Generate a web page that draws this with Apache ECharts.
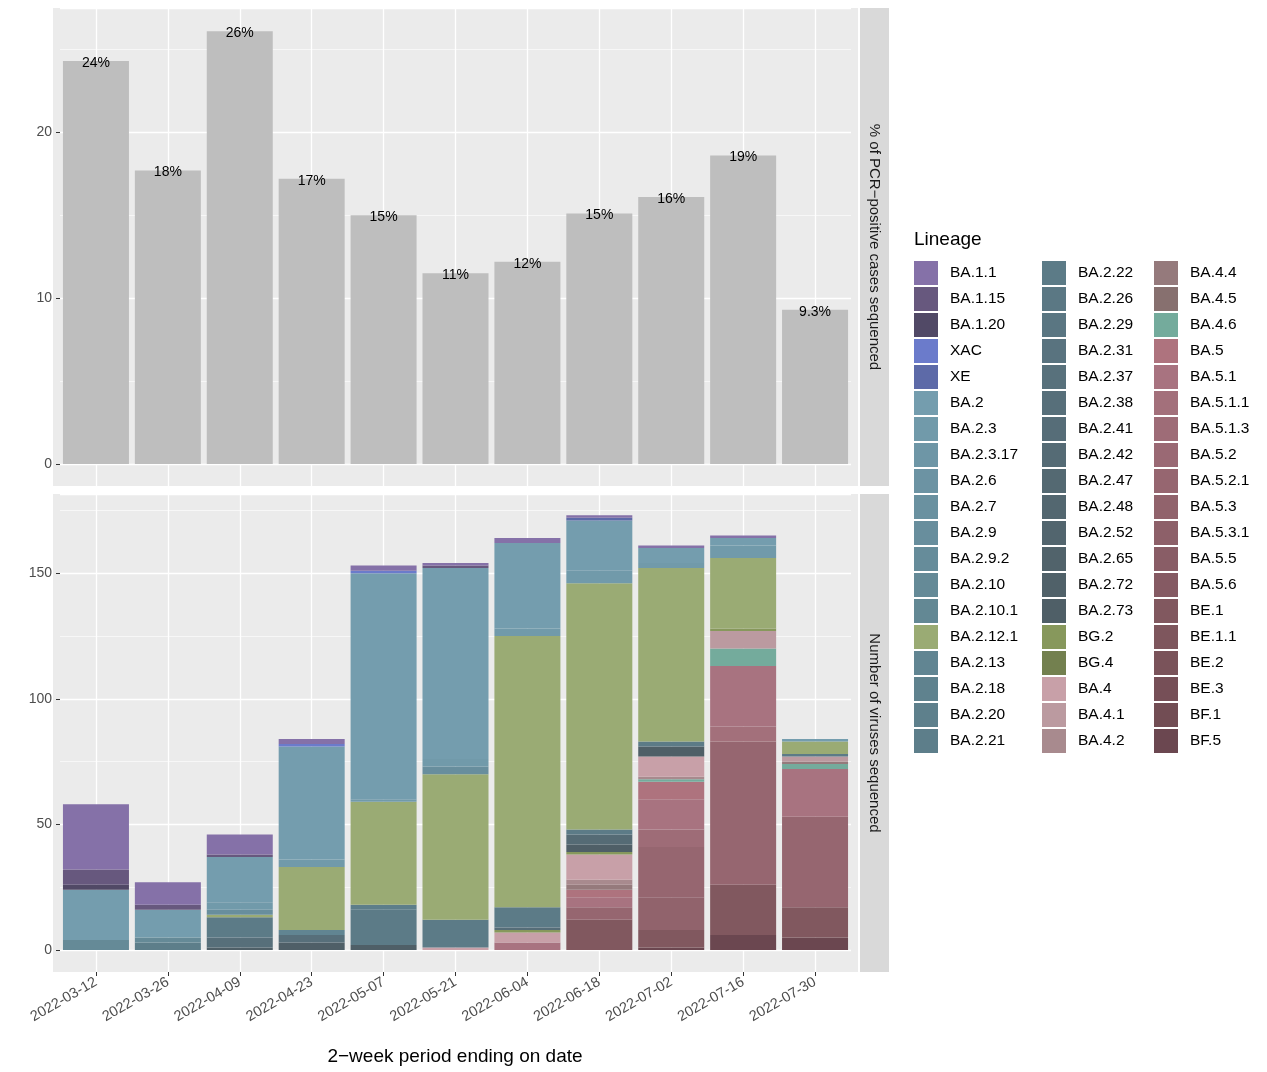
<!DOCTYPE html>
<html>
<head>
<meta charset="utf-8">
<script src="https://cdn.jsdelivr.net/npm/echarts@6/dist/echarts.min.js"></script>
<style>html,body{margin:0;padding:0;background:#fff}#chart{width:1267px;height:1072px}</style>
</head>
<body>
<div id="chart"></div>
<script>
// periods (2-week period ending on date)
var periods = ['2022-03-12','2022-03-26','2022-04-09','2022-04-23','2022-05-07','2022-05-21',
  '2022-06-04','2022-06-18','2022-07-02','2022-07-16','2022-07-30'];
// % of PCR-positive cases sequenced
var pctSequenced = [24.3, 17.7, 26.1, 17.2, 15.0, 11.5, 12.2, 15.1, 16.1, 18.6, 9.3];
var pctLabels = ['24%','18%','26%','17%','15%','11%','12%','15%','16%','19%','9.3%'];

// lineages in legend order (top of stack first)
var lineages = ['BA.1.1','BA.1.15','BA.1.20','XAC','XE','BA.2','BA.2.3','BA.2.3.17','BA.2.6','BA.2.7',
  'BA.2.9','BA.2.9.2','BA.2.10','BA.2.10.1','BA.2.12.1','BA.2.13','BA.2.18','BA.2.20','BA.2.21',
  'BA.2.22','BA.2.26','BA.2.29','BA.2.31','BA.2.37','BA.2.38','BA.2.41','BA.2.42','BA.2.47','BA.2.48',
  'BA.2.52','BA.2.65','BA.2.72','BA.2.73','BG.2','BG.4','BA.4','BA.4.1','BA.4.2',
  'BA.4.4','BA.4.5','BA.4.6','BA.5','BA.5.1','BA.5.1.1','BA.5.1.3','BA.5.2','BA.5.2.1','BA.5.3',
  'BA.5.3.1','BA.5.5','BA.5.6','BE.1','BE.1.1','BE.2','BE.3','BF.1','BF.5'];
var colors = ['#8571a8','#67587e','#514966','#6b7bcb','#5d6aa8','#749dae','#719aaa','#6e96a6','#6c93a3','#6a91a0',
  '#688e9d','#668c9a','#658a97','#638894','#9aab74','#618592','#5f828e','#5e808c','#5d7e8a',
  '#5c7b87','#5b7884','#5a7682','#59737f','#58717c','#576f7a','#566d78','#556b75','#546972','#536770',
  '#52656e','#51636b','#506169','#4f5f67','#87985c','#73804f','#c8a0a8','#bb9aa0','#a88a8e',
  '#957a7c','#87706f','#74ab9c','#ae737e','#a87380','#a3707b','#9e6c77','#9a6974','#966670','#91636c',
  '#8d6069','#895d66','#855a63','#81585f','#7e565d','#7a535a','#764f57','#724d54','#6b4750'];

// number of viruses sequenced per lineage (lineages not listed are 0)
var counts = {
  'BA.1.1':    [26, 9, 8, 2, 2, 1, 2, 1, 1, 1, 0],
  'BA.1.15':   [6, 2, 1, 0, 0, 1, 0, 0, 0, 0, 0],
  'BA.1.20':   [2, 0, 0, 0, 0, 0, 0, 0, 0, 0, 0],
  'XAC':       [0, 0, 0, 1, 1, 0, 0, 0, 0, 0, 0],
  'XE':        [0, 0, 0, 0, 0, 0, 0, 1, 0, 0, 0],
  'BA.2':      [20, 11, 18, 45, 90, 76, 34, 20, 6, 3, 1],
  'BA.2.3':    [0, 0, 3, 3, 1, 3, 3, 5, 2, 5, 0],
  'BA.2.9':    [0, 0, 2, 0, 0, 3, 0, 0, 0, 0, 0],
  'BA.2.10':   [4, 2, 0, 0, 0, 0, 0, 0, 0, 0, 0],
  'BA.2.12.1': [0, 0, 1, 25, 41, 58, 108, 98, 69, 28, 5],
  'BA.2.13':   [0, 0, 0, 2, 0, 0, 0, 0, 0, 0, 0],
  'BA.2.21':   [0, 3, 0, 0, 2, 0, 0, 0, 0, 0, 0],
  'BA.2.22':   [0, 0, 8, 0, 14, 11, 8, 2, 2, 0, 1],
  'BA.2.38':   [0, 0, 4, 3, 0, 0, 0, 0, 0, 0, 0],
  'BA.2.41':   [0, 0, 0, 0, 0, 0, 1, 0, 0, 0, 0],
  'BA.2.42':   [0, 0, 0, 0, 0, 0, 0, 4, 0, 0, 0],
  'BA.2.73':   [0, 0, 1, 3, 2, 0, 0, 3, 4, 0, 0],
  'BG.2':      [0, 0, 0, 0, 0, 0, 1, 1, 0, 1, 0],
  'BA.4':      [0, 0, 0, 0, 0, 1, 4, 10, 8, 0, 0],
  'BA.4.1':    [0, 0, 0, 0, 0, 0, 0, 0, 0, 7, 2],
  'BA.4.2':    [0, 0, 0, 0, 0, 0, 0, 2, 1, 0, 0],
  'BA.4.4':    [0, 0, 0, 0, 0, 0, 0, 2, 0, 0, 1],
  'BA.4.6':    [0, 0, 0, 0, 0, 0, 0, 0, 1, 7, 2],
  'BA.5':      [0, 0, 0, 0, 0, 0, 0, 3, 7, 0, 0],
  'BA.5.1':    [0, 0, 0, 0, 0, 0, 3, 4, 12, 24, 19],
  'BA.5.1.1':  [0, 0, 0, 0, 0, 0, 0, 0, 0, 6, 0],
  'BA.5.1.3':  [0, 0, 0, 0, 0, 0, 0, 0, 7, 0, 0],
  'BA.5.2.1':  [0, 0, 0, 0, 0, 0, 0, 5, 20, 57, 36],
  'BA.5.3':    [0, 0, 0, 0, 0, 0, 0, 0, 13, 0, 0],
  'BE.1':      [0, 0, 0, 0, 0, 0, 0, 12, 7, 20, 12],
  'BF.5':      [0, 0, 0, 0, 0, 0, 0, 0, 1, 6, 5]
};

var chart = echarts.init(document.getElementById('chart'));
var zeros = periods.map(function () { return 0; });

var series = [{
  type: 'bar', xAxisIndex: 0, yAxisIndex: 0, data: pctSequenced, barWidth: 66,
  itemStyle: { color: '#bebebe' }, silent: true,
  label: { show: true, position: 'top', distance: -9, fontSize: 14, color: '#000',
    fontFamily: 'Liberation Sans',
    formatter: function (p) { return pctLabels[p.dataIndex]; } }
}];
// ggplot stacks the first level on top, so add from the end
for (var i = lineages.length - 1; i >= 0; i--) {
  series.push({
    name: lineages[i], type: 'bar', stack: 'n', xAxisIndex: 1, yAxisIndex: 1,
    barWidth: 66, data: counts[lineages[i]] || zeros,
    itemStyle: { color: colors[i] }
  });
}

function legendCol(left, names) {
  return { orient: 'vertical', left: left, top: 256, itemWidth: 24, itemHeight: 24, itemGap: 2,
    icon: 'rect', selectedMode: false, data: names,
    textStyle: { fontSize: 15.5, color: '#000', fontFamily: 'Liberation Sans', padding: [0, 0, 0, 7] } };
}

var axisLab = { fontSize: 14, color: '#4d4d4d', fontFamily: 'Liberation Sans' };
var whiteLine = { color: '#fff', width: 1.3 };

function yAxisFor(grid, max, interval) {
  return { type: 'value', gridIndex: grid, min: 0, max: max, interval: interval,
    axisLabel: Object.assign({ showMaxLabel: false }, axisLab), axisLine: { show: false },
    axisTick: { show: true, length: 4, lineStyle: { color: '#333' } },
    splitLine: { lineStyle: whiteLine }, minorTick: { show: false, splitNumber: 2 },
    minorSplitLine: { show: true, lineStyle: { color: '#fff', width: 0.6 } } };
}
// full-height panels, only used for the vertical grid lines, ticks and labels
function catAxisFor(grid, withLabels) {
  return { type: 'category', gridIndex: grid, data: periods, axisLine: { show: false },
    axisTick: { show: withLabels, alignWithLabel: true, length: 4, lineStyle: { color: '#333' } },
    splitLine: { show: true, alignWithLabel: true, lineStyle: whiteLine },
    axisLabel: { show: withLabels, rotate: 30, margin: 9, fontSize: 14.5, color: '#4d4d4d',
      fontFamily: 'Liberation Sans' } };
}

chart.setOption({
  animation: false,
  textStyle: { fontFamily: 'Liberation Sans' },
  grid: [
    { left: 60, width: 791, top: 8, height: 456 },
    { left: 60, width: 791, top: 494, height: 456 },
    { left: 60, width: 791, top: 8, height: 478 },
    { left: 60, width: 791, top: 494, height: 478 }
  ],
  xAxis: [
    { type: 'category', gridIndex: 0, data: periods, show: false },
    { type: 'category', gridIndex: 1, data: periods, show: false },
    catAxisFor(2, false),
    catAxisFor(3, true)
  ],
  yAxis: [
    yAxisFor(0, 27.5, 10),
    yAxisFor(1, 181.5, 50),
    { type: 'value', gridIndex: 2, show: false, splitLine: { show: false } },
    { type: 'value', gridIndex: 3, show: false, splitLine: { show: false } }
  ],
  legend: [
    legendCol(909, lineages.slice(0, 19)),
    legendCol(1037, lineages.slice(19, 38)),
    legendCol(1149, lineages.slice(38))
  ],
  graphic: [
    { type: 'rect', z: -10, shape: { x: 53, y: 8, width: 805, height: 478 }, style: { fill: '#ebebeb' } },
    { type: 'rect', z: -10, shape: { x: 53, y: 494, width: 805, height: 478 }, style: { fill: '#ebebeb' } },
    { type: 'rect', z: -10, shape: { x: 860, y: 8, width: 29, height: 478 }, style: { fill: '#d9d9d9' } },
    { type: 'rect', z: -10, shape: { x: 860, y: 494, width: 29, height: 478 }, style: { fill: '#d9d9d9' } },
    { type: 'text', x: 874, y: 247, rotation: -Math.PI / 2,
      style: { text: '% of PCR\u2212positive cases sequenced', fontSize: 15, fill: '#1a1a1a',
        align: 'center', verticalAlign: 'middle', fontFamily: 'Liberation Sans' } },
    { type: 'text', x: 874, y: 733, rotation: -Math.PI / 2,
      style: { text: 'Number of viruses sequenced', fontSize: 15, fill: '#1a1a1a',
        align: 'center', verticalAlign: 'middle', fontFamily: 'Liberation Sans' } },
    { type: 'text', x: 455, y: 1057,
      style: { text: '2\u2212week period ending on date', fontSize: 19, fill: '#000',
        align: 'center', verticalAlign: 'middle', fontFamily: 'Liberation Sans' } },
    { type: 'text', x: 914, y: 240,
      style: { text: 'Lineage', fontSize: 19, fill: '#000',
        align: 'left', verticalAlign: 'middle', fontFamily: 'Liberation Sans' } }
  ],
  series: series
});
</script>
</body>
</html>
